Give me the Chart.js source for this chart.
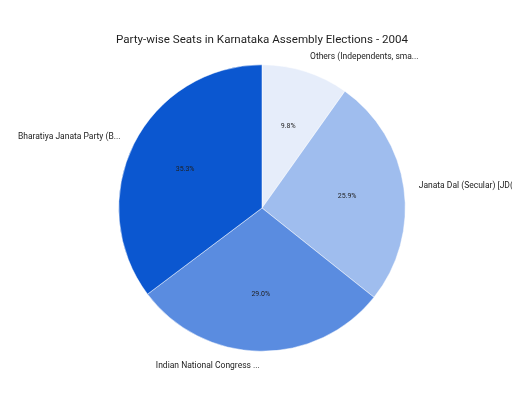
<!DOCTYPE html>
<html>
<head>
<meta charset="utf-8">
<script src="https://cdn.jsdelivr.net/npm/chart.js@4"></script>
<style>
    html, body { margin: 0; padding: 0; background: #ffffff; }
    #wrap { width: 512px; height: 410px; }
</style>
</head>
<body>
<div id="wrap"><canvas id="seatChart" width="512" height="410"></canvas></div>
<script>
const chartTitle = 'Party-wise Seats in Karnataka Assembly Elections - 2004';
const parties = [
    'Others (Independents, small parties)',
    'Janata Dal (Secular) [JD(S)]',
    'Indian National Congress (INC)',
    'Bharatiya Janata Party (BJP)'
];
const seats = [22, 58, 65, 79];
const sliceColors = ['#e6edfa', '#9fbdee', '#5a8ce0', '#0b57d0'];

// labels longer than 25 chars are cut like the original
function shorten(text) {
    return text.length > 25 ? text.slice(0, 25) + '...' : text;
}

const pieLabels = {
    id: 'pieLabels',
    afterDatasetsDraw(chart) {
        const ctx = chart.ctx;
        const area = chart.chartArea;
        const meta = chart.getDatasetMeta(0);
        const total = seats.reduce((a, b) => a + b, 0);

        ctx.save();
        ctx.fillStyle = '#1f1f1f';
        ctx.font = '11.6px Roboto';
        ctx.textAlign = 'center';
        ctx.textBaseline = 'middle';
        ctx.fillText(chartTitle, (area.left + area.right) / 2, 40);

        meta.data.forEach((arc, i) => {
            const mid = (arc.startAngle + arc.endAngle) / 2;
            const cos = Math.cos(mid);
            const sin = Math.sin(mid);

            // percentage inside the slice
            const inner = arc.outerRadius * 0.6;
            ctx.font = '7px Roboto';
            ctx.fillStyle = '#1f1f1f';
            ctx.textAlign = 'center';
            ctx.fillText((seats[i] / total * 100).toFixed(1) + '%', arc.x + cos * inner, arc.y + sin * inner);

            // party name outside the pie
            const outer = arc.outerRadius + 15;
            ctx.font = '8.5px Roboto';
            ctx.fillStyle = '#222222';
            ctx.textAlign = cos >= 0 ? 'left' : 'right';
            ctx.fillText(shorten(parties[i]), arc.x + cos * outer, arc.y + sin * outer);
        });
        ctx.restore();
    }
};

new Chart(document.getElementById('seatChart').getContext('2d'), {
    type: 'pie',
    data: {
        labels: parties,
        datasets: [{
            data: seats,
            backgroundColor: sliceColors,
            borderColor: '#ffffff',
            borderWidth: 0.5
        }]
    },
    options: {
        responsive: false,
        animation: false,
        layout: {
            padding: { top: 64.5, bottom: 58.5, left: 118.5, right: 106.5 }
        },
        plugins: {
            legend: { display: false },
            title: { display: false },
            tooltip: { enabled: false }
        }
    },
    plugins: [pieLabels]
});
</script>
</body>
</html>
